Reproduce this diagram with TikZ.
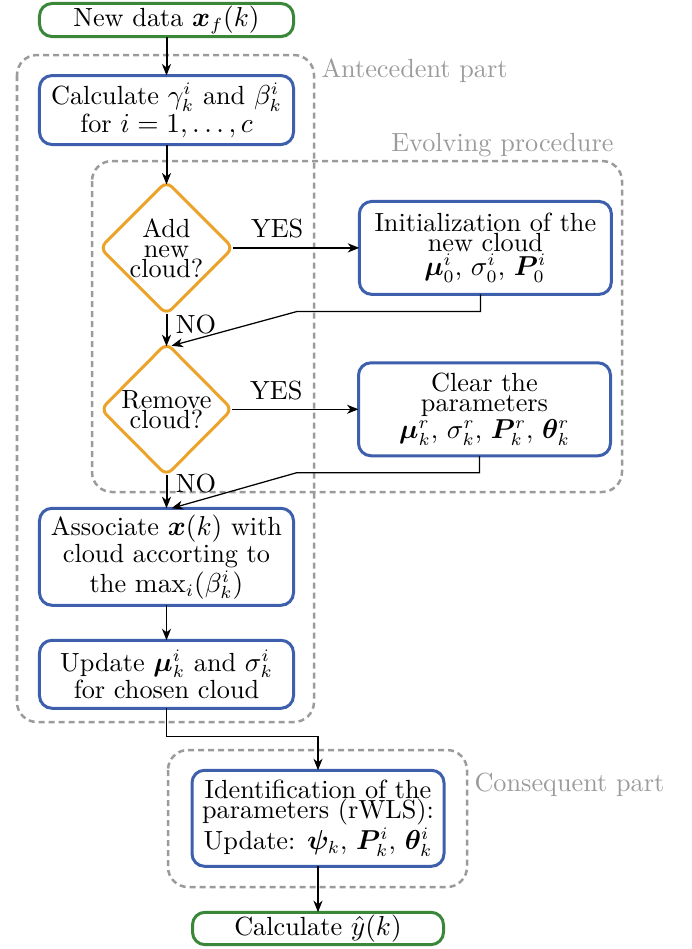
\documentclass[tikz,border=0pt]{standalone}
\usepackage{bm}
\usetikzlibrary{positioning, arrows.meta, shapes}

\definecolor{boxblue}{RGB}{62,95,172}
\definecolor{decorange}{RGB}{236,163,42}
\definecolor{iogreen}{RGB}{58,135,58}
\definecolor{partgray}{RGB}{155,155,155}

\tikzset{
  block/.style = {draw=boxblue, line width=1.2pt, rounded corners=5pt, align=center, outer sep=0pt,
                  minimum width=101.6pt, inner sep=2pt, font=\fontsize{10.5}{8}\selectfont},
  io/.style = {block, draw=iogreen, minimum height=12pt, inner sep=1pt},
  decision/.style = {diamond, draw=decorange, line width=1.2pt, rounded corners=3pt, align=center,
                     inner sep=0pt, outer sep=0pt, minimum width=52.4pt, minimum height=52.8pt,
                     font=\fontsize{10.5}{8}\selectfont},
  part/.style = {draw=partgray, line width=1pt, dash pattern=on 2.4pt off 1.6pt, rounded corners=8pt},
  partlabel/.style = {text=partgray, inner sep=0pt, font=\fontsize{10.5}{12}\selectfont},
  flow/.style = {->, line width=0.8pt, font=\fontsize{10.5}{12}\selectfont},
  back/.style = {->, line width=0.5pt, font=\fontsize{10.5}{12}\selectfont},
}

\begin{document}
\begin{tikzpicture}[>={Stealth[length=4.6pt, width=3.6pt, inset=1.4pt]}, x=0.4pt, y=-0.4pt]
  \useasboundingbox (0,0) rectangle (692,949);

  % main column
  \node[io] (data) at (166.5,20) {New data $\bm{x}_f(k)$};
  \node[block, minimum height=27.6pt] (calc) [below = 15.6pt of data]
    {Calculate $\gamma_k^i$ and $\beta_k^i$\\for $i=1,\ldots,c$};
  \node[decision] (add) [below = 14.8pt of calc] {Add\\new\\cloud?};
  \node[decision] (rem) [below = 11.6pt of add] {Remove\\cloud?};
  \node[block, minimum height=38.8pt] (assoc) [below = 13.2pt of rem]
    {Associate $\bm{x}(k)$ with\\cloud accorting to\\the $\max_i(\beta_k^i)$};
  \node[block, minimum height=27.2pt] (upd) [below = 14pt of assoc]
    {Update $\bm{\mu}_k^i$ and $\sigma_k^i$\\for chosen cloud};

  % evolving side
  \node[block, minimum width=100.8pt, minimum height=37.2pt] (init) [right = 50.6pt of add]
    {Initialization of the\\new cloud\\$\bm{\mu}_0^i$, $\sigma_0^i$, $\bm{P}_0^i$};
  \node[block, minimum width=100.8pt, minimum height=37.2pt] (clear) [right = 50.6pt of rem]
    {Clear the\\parameters\\$\bm{\mu}_k^r$, $\sigma_k^r$, $\bm{P}_k^r$, $\bm{\theta}_k^r$};

  % consequent
  \node[block, minimum width=100.8pt, minimum height=38.4pt] (ident) [below = 24.8pt of upd, xshift=60.6pt]
    {Identification of the\\parameters (rWLS):\\Update: $\bm{\psi}_k$, $\bm{P}_k^i$, $\bm{\theta}_k^i$};
  \node[io, minimum width=100.4pt, minimum height=12.4pt] (yhat) [below = 18.4pt of ident]
    {Calculate $\hat{y}(k)$};

  % parts
  \draw[part] (17,55) rectangle (314,722);
  \draw[part] (92,161) rectangle (622,492);
  \draw[part] (168,750) rectangle (467,887);
  \node[partlabel, anchor=base west] (antlbl) at (321,77) {Antecedent part};
  \node[partlabel, anchor=base east] (evolbl) at (614,151) {Evolving procedure};
  \node[partlabel, anchor=base west] (conslbl) at (474,791) {Consequent part};

  \path[flow]
    (data) edge (calc)
    (calc) edge[shorten >=-1.2pt] (add)
    (add) edge node[above, pos=0.35] {YES} (init)
    (add) edge[shorten >=-1.2pt] node[right, pos=0.35] {NO} (rem)
    (rem) edge node[right, pos=0.25] {NO} (assoc)
    (ident) edge (yhat)
  ;
  \path[back]
    (rem) edge node[above, pos=0.35] {YES} (clear)
    (assoc) edge (upd)
  ;
  \draw[back] ([xshift=-2pt]init.south) -- ++(0,17) -- ++(-183,0) -- ([xshift=2pt,yshift=-1pt]rem.north);
  \draw[back] ([xshift=-2pt]clear.south) -- ++(0,17) -- ++(-183,0) -- ([xshift=2pt]assoc.north);
  \draw[back] (upd.south) -- ++(0,28) -| (ident.north);
\end{tikzpicture}
\end{document}
